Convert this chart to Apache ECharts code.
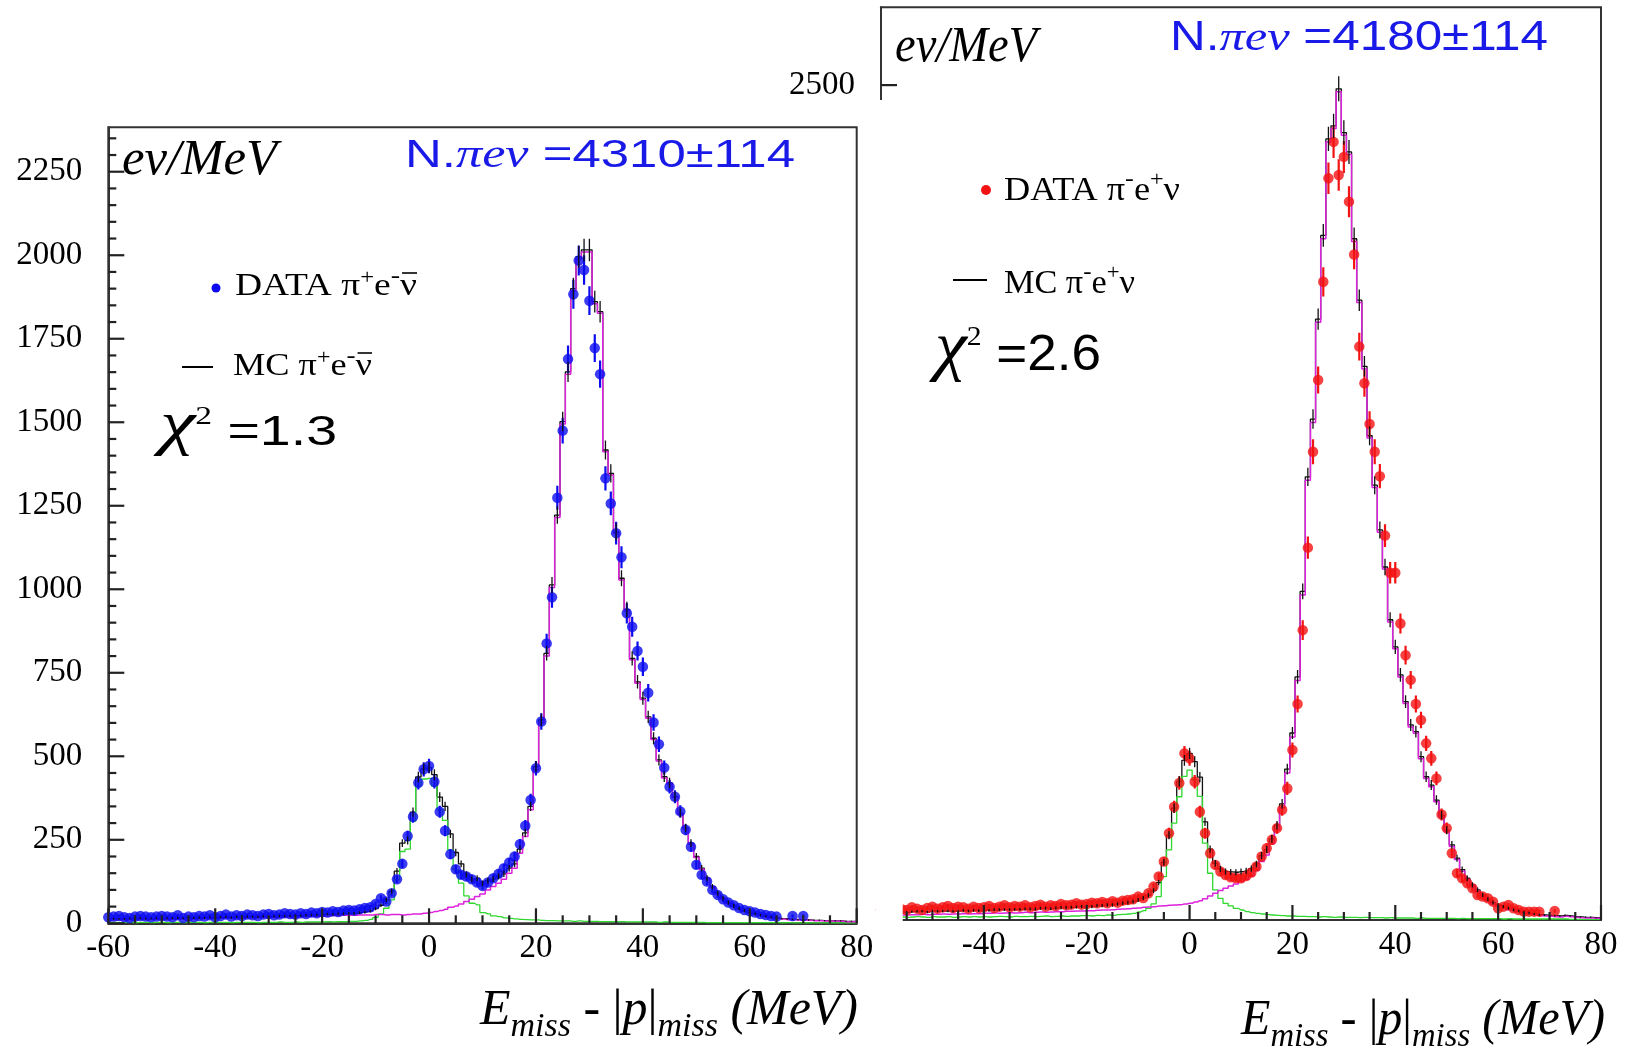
<!DOCTYPE html>
<html><head><meta charset="utf-8">
<script src="https://cdn.jsdelivr.net/npm/echarts@6/dist/echarts.min.js"></script>
<style>html,body{margin:0;padding:0;background:#fff}#c{width:1626px;height:1058px}</style>
</head><body><div id="c"></div>
<script>
// ---------------- DATA (1 MeV bins, first bin centre at -60 MeV) ----------------
const binStart = -60;
const xTickLabels = [-60, -40, -20, 0, 20, 40, 60, 80];
const yTickStep = 250;

const leftData = [
  18,20,22,18,16,20,22,20,18,20, 22,20,18,24,16,20,18,22,20,24, 18,22,26,20,24,22,26,24,22,26,
  28,24,26,30,28,26,30,28,32,30, 34,32,36,34,38,40,38,42,46,48, 58,75,65,90,132,178,261,319,421,461,
  471,424,334,277,207,162,145,140,132,122, 112,122,135,148,165,182,200,237,292,369,
  464,604,838,976,1274,1475,1689,1883,1984,1956, 1864,1722,1644,1332,1257,1168,1096,928,888,815,
  768,690,601,536,466,409,379,335,280,229, 175,145,125,100,85,72,62,54,46,40,
  36,32,28,25,22,20,null,null,22,null,22
];
const leftMC = [13,13,13,13,14,13,15,14,14,15, 15,15,15,16,15,17,16,17,16,18, 18,18,19,17,19,19,20,19,19,21, 20,21,22,22,22,23,23,24,25,25, 26,27,27,28,29,30,30,32,34,37, 44,54,70,96,156,240,248,333,438,462, 466,445,378,350,268,212,178,147,132,135, 120,128,132,140,148,165,178,222,271,350, 469,609,808,1013,1222,1502,1651,1900,1996,2016, 2016,1861,1831,1417,1347,1172,1033,940,793,723, 674,618,554,489,439,420,380,330,285,240, 200,165,135,110,90,75,62,52,44,38, 32,28,24,21,18,16,14,13,12,11, 10,10,9,9,8,8,7,7,6,6, 6];
const leftSignal = [10,10,11,10,11,11,12,11,12,12, 12,13,12,13,13,14,13,14,14,15, 15,15,16,15,16,16,17,16,17,18, 17,18,18,19,19,19,20,20,21,21, 22,22,23,23,24,24,24,25,25,25, 26,26,25,26,26,25,26,28,28,30, 32,35,38,42,48,52,58,65,72,80, 88,100,110,120,132,150,165,210,260,340, 459,600,800,1005,1215,1495,1644,1894,1989,2010, 2010,1855,1826,1412,1342,1167,1028,936,789,719, 670,614,550,486,435,417,377,327,282,237, 197,162,133,108,88,73,60,50,42,36, 30,26,22,19,16,14,13,11,11,10, 9,9,8,8,7,7,6,6,5,5, 5];
const leftBkg = [3,3,2,3,3,2,3,3,2,3, 3,2,3,3,2,3,3,3,2,3, 3,3,3,2,3,3,3,3,2,3, 3,3,4,3,3,4,3,4,4,4, 4,5,4,5,5,6,6,7,9,12, 18,28,45,70,130,215,222,305,410,432, 434,410,340,308,220,160,120,82,60,55, 32,28,22,20,16,15,13,12,11,10, 10,9,8,8,7,7,7,6,7,6, 6,6,5,5,5,5,5,4,4,4, 4,4,4,3,4,3,3,3,3,3, 3,3,2,2,2,2,2,2,2,2, 2,2,2,2,2,2,1,2,1,1, 1,1,1,1,1,1,1,1,1,1, 1];

const rightData = [30,34,28,36,32,30,38,34,30,36, 40,34,38,42,36,40,38,34,40,36, 38,42,36,40,44,38,42,40,44,38, 42,46,40,44,42,48,44,46,50,46, 48,52,50,54,50,56,52,58,60,62, 70,66,80,100,130,175,260,339,410,499, 484,414,324,260,200,165,145,135,128,126, 125,132,142,160,190,215,240,275,330,394, 509,647,868,1115,1402,1617,1911,2221,2330,2231, 2285,2151,1993,1717,1607,1485,1402,1329,1151,1040, 1040,888,793,719,647,599,529,484,424,316, 275,200,140,125,110,95,75,70,65,55, 35,40,45,35,30,25,25,25,25,null, null,27];
const rightMC = [22,24,22,26,24,23,25,26,26,24, 27,26,27,27,26,27,29,27,29,28, 30,29,31,31,31,31,32,32,33,33, 33,35,35,34,36,37,37,38,39,40, 41,40,43,43,45,45,48,50,52,55, 60,66,74,88,112,173,254,335,415,478, 499,474,428,294,212,170,153,145,144,143, 145,147,154,168,193,211,243,284,348,452, 560,728,984,1327,1500,1799,2050,2339,2378,2489, 2358,2300,2040,1856,1658,1450,1302,1168,1057,899, 818,734,654,584,564,489,429,404,359,314, 269,225,185,151,125,105,90,75,62,52, 45,40,35,30,27,24,21,18,16,15, 14,13,12,14,12,10,9,8,8,7, 7];
const rightSignal = [14,15,14,16,15,15,16,16,17,16, 17,17,18,17,18,18,19,18,19,19, 20,20,21,20,21,22,21,22,23,22, 23,24,23,24,25,25,26,26,27,27, 28,28,29,30,30,31,32,33,34,35, 36,38,39,40,42,43,44,45,46,48, 50,54,58,64,72,80,88,95,102,108, 115,122,132,148,175,195,228,270,335,440, 548,717,973,1317,1490,1790,2040,2330,2370,2480, 2350,2292,2032,1849,1650,1443,1295,1161,1051,892, 812,728,648,578,559,483,424,399,354,309, 264,220,181,146,121,101,86,71,58,48, 41,37,31,27,24,21,18,15,13,12, 11,10,9,11,10,8,7,6,6,5, 5];
const rightBkg = [8,9,8,10,9,8,9,10,9,8, 10,9,9,10,8,9,10,9,10,9, 10,9,10,11,10,9,11,10,10,11, 10,11,12,10,11,12,11,12,12,13, 13,12,14,13,15,14,16,17,18,20, 24,28,35,48,70,130,210,290,369,430, 449,420,370,230,140,90,65,50,42,35, 30,25,22,20,18,16,15,14,13,12, 12,11,11,10,10,9,10,9,8,9, 8,8,8,7,8,7,7,7,6,7, 6,6,6,6,5,6,5,5,5,5, 5,5,4,5,4,4,4,4,4,4, 4,3,4,3,3,3,3,3,3,3, 3,3,3,3,2,2,2,2,2,2, 2];

const unitText = 'ev/MeV';
const leftCount = ' =4310\u00B1114';
const rightCount = ' =4180\u00B1114';
const leftChi = ' =1.3';
const rightChi = ' =2.6';

// ---------------- helpers ----------------
const SERIF = '"Liberation Serif", "Times New Roman", serif';
const SANS = '"Liberation Sans", Arial, sans-serif';
function fnt(size, style, fam) { return (style ? style + ' ' : '') + size + 'px ' + (fam || SERIF); }
const mctx = document.createElement('canvas').getContext('2d');
function textW(t, font) { mctx.font = font; return mctx.measureText(t).width; }
function midOff(font) {
  mctx.font = font; const m = mctx.measureText('M');
  if (m.fontBoundingBoxAscent !== undefined) return (m.fontBoundingBoxAscent - m.fontBoundingBoxDescent) / 2;
  return 0.3 * parseFloat(font.match(/(\d+(\.\d+)?)px/)[1]);
}
function seq(x0, x1, baseline, parts, color, z) {
  const widths = parts.map(p => textW(p.t, p.font));
  const total = widths.reduce((a, b) => a + b, 0);
  const sx = x1 ? (x1 - x0) / total : 1;
  const out = []; let cx = x0;
  parts.forEach((p, i) => {
    out.push({ type: 'text', x: cx, y: baseline + (p.dy || 0) - midOff(p.font), scaleX: sx, z: z || 20, silent: true,
      style: { text: p.t, font: p.font, fill: p.color || color || '#000', align: 'left', verticalAlign: 'middle' } });
    if (p.bar !== undefined) {
      out.push({ type: 'line', z: z || 20, silent: true,
        shape: { x1: cx + 2, y1: baseline + p.bar, x2: cx + widths[i] * sx, y2: baseline + p.bar },
        style: { stroke: color || '#000', lineWidth: 1.6 } });
    }
    cx += widths[i] * sx;
  });
  return out;
}
function pts(vals) { const r = []; vals.forEach((v, i) => { if (v != null) r.push([binStart + i, v]); }); return r; }
// statistical (Poisson) uncertainty of each bin
function errRows(vals, scale) { const r = []; vals.forEach((v, i) => { if (v != null) r.push([binStart + i, v, scale * Math.sqrt(v)]); }); return r; }
function errItem(color, w) {
  return function (params, api) {
    const x = api.value(0), y = api.value(1), e = api.value(2);
    const a = api.coord([x, y - e]), b = api.coord([x, y + e]);
    return { type: 'line', shape: { x1: a[0], y1: a[1], x2: b[0], y2: b[1] }, style: { stroke: color, lineWidth: w } };
  };
}
// inward axis tick marks, placed through the axis scales
function tickRows(maxV, step, majorStep) { const r = []; for (let v = 0; v <= maxV + 1e-9; v += step) r.push([v, v % majorStep === 0 ? 1 : 0]); return r; }
function xTickRows() { const r = []; for (let v = xTickLabels[0]; v <= xTickLabels[xTickLabels.length - 1]; v += 5) r.push([v, v % 20 === 0 ? 1 : 0]); return r; }
function xTickItem(params, api) {
  const p = api.coord([api.value(0), 0]); const len = api.value(1) ? 15 : 8;
  return { type: 'line', shape: { x1: p[0], y1: p[1], x2: p[0], y2: p[1] - len }, style: { stroke: '#222', lineWidth: 2.2 } };
}
function yTickItem(params, api) {
  const p = api.coord([xTickLabels[0], api.value(0)]); const len = api.value(1) ? 16 : 8;
  return { type: 'line', shape: { x1: p[0], y1: p[1], x2: p[0] + len, y2: p[1] }, style: { stroke: '#222', lineWidth: 2.2 } };
}

const C_BLUE = '#0b0bf0', C_RED = '#f21212', C_MAG = '#dc22dc', C_GRN = '#30d830', C_TXTBLUE = '#1a1ae8';

function mkX(gi) {
  return { type: 'value', gridIndex: gi, min: xTickLabels[0], max: xTickLabels[xTickLabels.length - 1], interval: 20,
    axisLine: { show: true, onZero: false, lineStyle: { color: '#333', width: 2 } },
    axisTick: { show: false }, minorTick: { show: false },
    axisLabel: { fontFamily: 'Liberation Serif', fontSize: 33, color: '#000', margin: 9, showMinLabel: true, showMaxLabel: true,
      formatter: v => (gi === 1 && v === xTickLabels[0] ? '' : String(v)) },
    splitLine: { show: false }, minorSplitLine: { show: false } };
}
function mkY(gi, max, fmt) {
  return { type: 'value', gridIndex: gi, min: 0, max: max, interval: yTickStep,
    axisLine: { show: true, onZero: false, lineStyle: { color: '#333', width: 2 } },
    axisTick: { show: false }, minorTick: { show: false },
    axisLabel: { fontFamily: 'Liberation Serif', fontSize: 33, color: '#000', margin: 26, formatter: fmt },
    splitLine: { show: false }, minorSplitLine: { show: false } };
}
function histSeries(gi, vals, color, w, z) {
  return { type: 'line', xAxisIndex: gi, yAxisIndex: gi, data: pts(vals), step: 'middle', symbol: 'none',
    lineStyle: { color: color, width: w }, z: z, silent: true, animation: false };
}
function panelSeries(gi, data, mc, sig, bkg, dotColor, yMax, yMinorStep) {
  return [
    histSeries(gi, mc, '#111', 1.3, 2),
    histSeries(gi, bkg, C_GRN, 1.3, 2),
    histSeries(gi, sig, C_MAG, 1.5, 3),
    { type: 'custom', xAxisIndex: gi, yAxisIndex: gi, data: errRows(data, 1), renderItem: errItem(dotColor, 2.2), encode: { x: 0, y: 1 }, clip: true, z: 4, silent: true },
    { type: 'scatter', xAxisIndex: gi, yAxisIndex: gi, data: pts(data), symbol: 'circle', symbolSize: 10.5, itemStyle: { color: dotColor }, z: 5, silent: true },
    { type: 'custom', xAxisIndex: gi, yAxisIndex: gi, data: errRows(mc, 0.75), renderItem: errItem('#111', 1.3), encode: { x: 0, y: 1 }, clip: true, z: 6, silent: true },
    { type: 'custom', xAxisIndex: gi, yAxisIndex: gi, data: xTickRows(), renderItem: xTickItem, encode: { x: 0 }, clip: false, z: 7, silent: true },
    { type: 'custom', xAxisIndex: gi, yAxisIndex: gi, data: tickRows(yMax, yMinorStep, yTickStep), renderItem: yTickItem, encode: { y: 0 }, clip: false, z: 7, silent: true }
  ];
}

const F_UNIT = fnt(50, 'italic');
const els = [];
// cover hiding the lower-left part of the right panel (the two panels overlap in the original figure)
els.push({ type: 'rect', shape: { x: 876, y: 100, width: 26.7, height: 958 }, style: { fill: '#fff' }, z: 50, silent: true });

els.push(...seq(122, 277, 178, [{ t: unitText, font: F_UNIT }]));
els.push(...seq(405, 795, 170, [
  { t: 'N.', font: fnt(39, '', SANS) }, { t: '\u03C0e\u03BD', font: fnt(40, 'italic') }, { t: leftCount, font: fnt(39, '', SANS) }
], C_TXTBLUE));
els.push({ type: 'circle', shape: { cx: 216, cy: 288, r: 4.5 }, style: { fill: C_BLUE }, z: 20, silent: true });
els.push(...seq(235, 417, 298, [
  { t: 'DATA \u03C0', font: fnt(32) }, { t: '+', font: fnt(21), dy: -13 }, { t: 'e', font: fnt(32) },
  { t: '-', font: fnt(24), dy: -13 }, { t: '\u03BD', font: fnt(32), bar: -25 }
]));
els.push({ type: 'line', shape: { x1: 182, y1: 367, x2: 213, y2: 367 }, style: { stroke: '#000', lineWidth: 2 }, z: 20, silent: true });
els.push(...seq(233, 372, 378, [
  { t: 'MC \u03C0', font: fnt(32) }, { t: '+', font: fnt(21), dy: -13 }, { t: 'e', font: fnt(32) },
  { t: '-', font: fnt(24), dy: -13 }, { t: '\u03BD', font: fnt(32), bar: -25 }
]));
els.push(...seq(160, 337, 448, [
  { t: '\u03C7', font: fnt(62, 'italic') }, { t: '2', font: fnt(26), dy: -22 }, { t: leftChi, font: fnt(43, '', SANS) }
]));
els.push(...seq(480, 858, 1028, [
  { t: 'E', font: fnt(50, 'italic') }, { t: 'miss', font: fnt(34, 'italic'), dy: 11 }, { t: ' - ', font: fnt(50) },
  { t: '|', font: fnt(50) }, { t: 'p', font: fnt(50, 'italic') }, { t: '|', font: fnt(50) },
  { t: 'miss', font: fnt(34, 'italic'), dy: 11 }, { t: ' (MeV)', font: fnt(50, 'italic') }
]));

els.push(...seq(895, 1037, 65, [{ t: unitText, font: F_UNIT }]));
els.push(...seq(1170, 1548, 53, [
  { t: 'N.', font: fnt(42, '', SANS) }, { t: '\u03C0e\u03BD', font: fnt(43, 'italic') }, { t: rightCount, font: fnt(42, '', SANS) }
], C_TXTBLUE));
els.push({ type: 'circle', shape: { cx: 986, cy: 190, r: 5 }, style: { fill: C_RED }, z: 20, silent: true });
els.push(...seq(1004, 1180, 202, [
  { t: 'DATA \u03C0', font: fnt(33) }, { t: '-', font: fnt(24), dy: -14 }, { t: 'e', font: fnt(33) },
  { t: '+', font: fnt(22), dy: -14 }, { t: '\u03BD', font: fnt(33) }
]));
els.push({ type: 'line', shape: { x1: 953, y1: 280, x2: 987, y2: 280 }, style: { stroke: '#000', lineWidth: 2 }, z: 20, silent: true });
els.push(...seq(1004, 1135, 295, [
  { t: 'MC \u03C0', font: fnt(33) }, { t: '-', font: fnt(24), dy: -14 }, { t: 'e', font: fnt(33) },
  { t: '+', font: fnt(22), dy: -14 }, { t: '\u03BD', font: fnt(33) }
]));
els.push(...seq(935, 1101, 373, [
  { t: '\u03C7', font: fnt(68, 'italic') }, { t: '2', font: fnt(28), dy: -26 }, { t: rightChi, font: fnt(50, '', SANS) }
]));
els.push(...seq(1241, 1605, 1038, [
  { t: 'E', font: fnt(50, 'italic') }, { t: 'miss', font: fnt(34, 'italic'), dy: 11 }, { t: ' - ', font: fnt(50) },
  { t: '|', font: fnt(50) }, { t: 'p', font: fnt(50, 'italic') }, { t: '|', font: fnt(50) },
  { t: 'miss', font: fnt(34, 'italic'), dy: 11 }, { t: ' (MeV)', font: fnt(50, 'italic') }
]));

const chart = echarts.init(document.getElementById('c'), null, { renderer: 'canvas' });
chart.setOption({
  animation: false,
  backgroundColor: '#fff',
  grid: [
    { left: 108.3, right: 1626 - 856.7, top: 127.3, bottom: 1058 - 923.3, show: true, backgroundColor: 'transparent', borderColor: '#333', borderWidth: 2 },
    { left: 881, right: 1626 - 1601, top: 7.3, bottom: 1058 - 920, show: true, backgroundColor: 'transparent', borderColor: '#333', borderWidth: 2 }
  ],
  xAxis: [mkX(0), mkX(1)],
  yAxis: [
    mkY(0, 2383, v => (v % yTickStep === 0 ? String(v) : '')),
    mkY(1, 2733, v => (v === 2500 ? '2500' : ''))
  ],
  series: [
    ...panelSeries(0, leftData, leftMC, leftSignal, leftBkg, C_BLUE, 2383, 50),
    ...panelSeries(1, rightData, rightMC, rightSignal, rightBkg, C_RED, 2733, 250)
  ],
  graphic: { elements: els }
});
</script>
</body></html>
